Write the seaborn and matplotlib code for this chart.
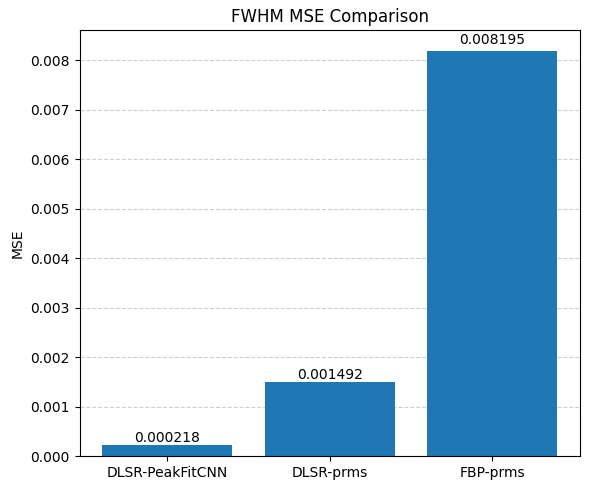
import matplotlib
matplotlib.use("Agg")
import matplotlib.pyplot as plt
import seaborn as sns

methods = ["DLSR-PeakFitCNN", "DLSR-prms", "FBP-prms"]
mse = [0.000218, 0.001492, 0.008195]

fig, ax = plt.subplots(figsize=(5.9, 4.9), dpi=100)
sns.barplot(x=methods, y=mse, color="#1f77b4", saturation=1, width=0.8, ax=ax)

for i, v in enumerate(mse):
    ax.text(i, v * 1.01, f"{v:.6f}", ha="center", va="bottom")

ax.set_title("FWHM MSE Comparison")
ax.set_ylabel("MSE")
ax.set_xlim(-0.54, 2.54)
ax.set_ylim(0, max(mse) * 1.05)
ax.grid(axis="y", linestyle="--", alpha=0.6)
ax.set_axisbelow(True)

fig.subplots_adjust(left=0.135, right=0.983, top=0.938, bottom=0.069)
plt.savefig("out.png")
